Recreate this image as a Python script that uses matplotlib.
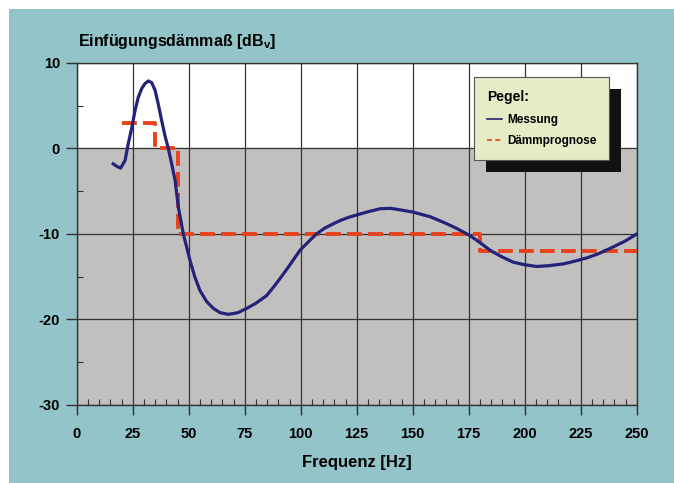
import matplotlib
matplotlib.use('Agg')
import matplotlib.pyplot as plt
from matplotlib.patches import Rectangle
from matplotlib.lines import Line2D
from matplotlib.ticker import MultipleLocator
from matplotlib.transforms import IdentityTransform

freq_mess = [16.3, 18, 19.6, 21.6, 23.0, 24.5, 26.0, 27.5, 29.0, 30.5, 32.0, 33.5,
             35.0, 36.4, 37.9, 39.4, 40.9, 42.4, 43.9, 45.4, 47.6, 50.6, 52.7, 55, 58,
             61, 64, 67.7, 72, 75.9, 80, 84.8, 88.5, 92.2, 96, 99.7, 103.5, 107, 110.8,
             114.6, 118.3, 122, 126, 130, 135.4, 140, 145, 150.3, 158, 165.2, 170,
             175.6, 180, 184.5, 190, 194.9, 200, 205.4, 211, 217.2, 222, 227.7, 233,
             239.6, 245, 250]
db_mess = [-1.8, -2.1, -2.3, -1.4, 0.55, 2.3, 4.4, 6.0, 7.0, 7.6, 7.9, 7.7,
           6.8, 5.2, 3.3, 1.5, 0.0, -1.8, -3.7, -6.9, -10.0, -13.1, -15.0, -16.6, -17.9,
           -18.7, -19.2, -19.4, -19.2, -18.7, -18.1, -17.2, -16.0, -14.7, -13.3, -11.9, -10.9, -10.0, -9.3,
           -8.8, -8.35, -8.0, -7.7, -7.4, -7.05, -7.0, -7.2, -7.45, -8.0, -8.8, -9.4,
           -10.2, -11.0, -11.9, -12.7, -13.3, -13.6, -13.8, -13.7, -13.5, -13.2, -12.8, -12.3,
           -11.5, -10.8, -10.0]

# predicted attenuation (step function)
freq_prog = [20, 35, 35, 45, 45, 180, 180, 250]
db_prog = [3, 3, 0, 0, -10, -10, -12, -12]

xticks = list(range(0, 251, 25))
yticks = [10, 0, -10, -20, -30]

teal = '#93c4c9'
grey = '#c1c0bf'
navy = '#23237a'
red = '#e8421c'
dark = '#333333'

plt.rcParams['font.family'] = 'Liberation Sans'
plt.rcParams['font.weight'] = 'bold'
plt.rcParams['axes.unicode_minus'] = False
plt.rcParams['mathtext.fontset'] = 'custom'
plt.rcParams['mathtext.bf'] = 'Liberation Sans:bold'
plt.rcParams['mathtext.rm'] = 'Liberation Sans:bold'

fig = plt.figure(figsize=(6.74, 4.83), dpi=100, facecolor='white')
fig.patches.append(Rectangle((9 / 674, 0), 1, 1 - 9 / 483, transform=fig.transFigure,
                             facecolor=teal, edgecolor='none', zorder=-1))

ax = fig.add_axes([0.1138, 0.1615, 0.8309, 0.7081])
ax.set_facecolor('white')
ax.axhspan(-30, 0, color=grey, zorder=0)

ax.plot(freq_prog, db_prog, color=red, lw=2.8, dashes=(3.8, 1.6), zorder=3)
ax.plot(freq_mess, db_mess, color=navy, lw=2.3, zorder=4)

ax.set_xlim(0, 250)
ax.set_ylim(-30, 10)
ax.set_xticks(xticks)
ax.set_yticks(yticks)
ax.xaxis.set_minor_locator(MultipleLocator(5))
ax.yaxis.set_minor_locator(MultipleLocator(5))
ax.grid(True, which='major', color=dark, lw=0.9, zorder=1)
ax.set_axisbelow(True)
for s in ax.spines.values():
    s.set_color(dark)
    s.set_linewidth(1)

ax.tick_params(which='major', direction='out', color=dark, width=1, labelsize=10.5)
ax.tick_params(axis='x', which='major', length=7, pad=9)
ax.tick_params(axis='y', which='major', length=8, pad=4)
ax.tick_params(which='minor', direction='in', length=4, color=dark, width=0.8)

ax.set_xlabel('Frequenz [Hz]', fontsize=12, fontweight='bold', labelpad=10)
fig.text(78 / 674, 1 - 46 / 483, r'Einfügungsdämmaß [dB$_\mathbf{v}$]',
         fontsize=11.5, fontweight='bold', ha='left', va='baseline')

handles = [Line2D([], [], color=navy, lw=1.2),
           Line2D([], [], color=red, lw=1.2, dashes=(3, 2))]
leg = ax.legend(handles, ['Messung', 'Dämmprognose'], title='Pegel:',
                loc='upper left', bbox_to_anchor=(0.7095, 0.958), borderaxespad=0,
                fancybox=False, framealpha=1, facecolor='#e4edc6', edgecolor='#555555',
                prop={'weight': 'bold', 'size': 8.5},
                title_fontproperties={'weight': 'bold', 'size': 10},
                handlelength=1.3, handletextpad=0.4, borderpad=1.1,
                labelspacing=0.8, alignment='left')
leg.set_zorder(6)
leg.get_frame().set_linewidth(0.8)

# hard black drop shadow behind the legend box
fig.canvas.draw()
bb = leg.get_window_extent()
shadow = Rectangle((bb.x0 + 12, bb.y0 - 12), bb.width, bb.height, facecolor='#111111',
                   edgecolor='none', transform=IdentityTransform(), zorder=5.5,
                   clip_on=False)
ax.add_artist(shadow)

fig.savefig('out.png', dpi=100, facecolor=fig.get_facecolor())
